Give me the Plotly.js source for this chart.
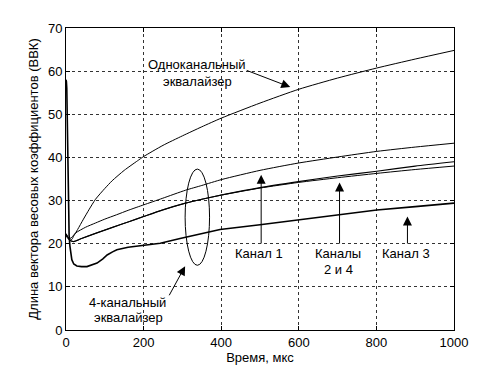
<!DOCTYPE html>
<html>
<head>
<meta charset="utf-8">
<script src="https://cdn.plot.ly/plotly-3.0.1.min.js"></script>
<style>html,body{margin:0;padding:0;background:#fff;}#chart{width:502px;height:371px;}</style>
</head>
<body>
<div id="chart"></div>
<script>
// Single-channel equalizer
const tSingle = [0, 5, 10, 15, 20, 30, 45, 60, 76, 100, 119, 150, 184, 200, 250, 300, 350, 400, 500, 600, 700, 800, 900, 1000];
const vSingle = [21.8, 21.2, 20.8, 21.0, 21.8, 23.3, 25.7, 28.0, 30.3, 32.8, 34.6, 37.0, 39.2, 40.2, 42.8, 45.0, 47.1, 49.1, 52.6, 55.8, 58.4, 60.7, 62.8, 64.8];
// 4-channel equalizer, channel 1
const tCh1 = [0, 5, 10, 15, 25, 50, 76, 100, 130, 162, 200, 248, 308, 350, 402, 500, 599, 700, 801, 900, 1000];
const vCh1 = [22, 21.6, 21.2, 21.5, 22.5, 23.8, 24.8, 25.7, 26.7, 27.8, 29.0, 30.5, 32.4, 33.5, 34.9, 37.0, 38.7, 40.1, 41.4, 42.4, 43.3];
// channels 2 and 4
const tCh24 = [0, 5, 10, 20, 40, 76, 120, 162, 200, 248, 308, 350, 402, 500, 599, 700, 801, 900, 1000];
const vCh2 = [22.3, 21.5, 20.8, 20.5, 21.2, 22.4, 23.8, 25.1, 26.3, 27.8, 29.4, 30.3, 31.3, 33.0, 34.4, 35.7, 36.8, 38.0, 39.0];
const vCh4 = [22.3, 21.5, 20.8, 20.5, 21.2, 22.4, 23.8, 25.1, 26.3, 27.8, 29.4, 30.3, 31.3, 32.9, 34.2, 35.3, 36.3, 37.2, 38.0];
// channel 3 (with initial spike)
const tCh3 = [0, 1, 2, 3, 4, 5, 6, 7, 8, 10, 15, 20, 28, 40, 54, 65, 80, 95, 106, 120, 131, 160, 191, 243, 294, 346, 397, 500, 599, 700, 801, 900, 1000];
const vCh3 = [58, 57.6, 56, 52, 48, 44, 38, 28, 22, 19.5, 16.3, 15.3, 14.85, 14.7, 14.7, 15, 15.5, 16.5, 17.4, 18.1, 18.6, 19.2, 19.6, 20.1, 21.2, 22.3, 23.3, 24.4, 25.5, 26.6, 27.8, 28.6, 29.4];

const xTicks = [0, 200, 400, 600, 800, 1000];
const yTicks = [0, 10, 20, 30, 40, 50, 60, 70];

const FONT = 'Liberation Sans, Arial, sans-serif';
const ln = (w) => ({color: '#000', width: w});

const traces = [
  {x: tSingle, y: vSingle, mode: 'lines', line: Object.assign(ln(1), {shape: 'spline', smoothing: 0.6}), name: 'Одноканальный'},
  {x: tCh1, y: vCh1, mode: 'lines', line: Object.assign(ln(1), {shape: 'spline', smoothing: 0.6}), name: 'Канал 1'},
  {x: tCh24, y: vCh2, mode: 'lines', line: Object.assign(ln(1.2), {shape: 'spline', smoothing: 0.6}), name: 'Канал 2'},
  {x: tCh24, y: vCh4, mode: 'lines', line: Object.assign(ln(1), {shape: 'spline', smoothing: 0.6}), name: 'Канал 4'},
  {x: tCh3, y: vCh3, mode: 'lines', line: ln(1.6), name: 'Канал 3'}
];

function arrow(xh, yh, xt, yt) {
  return {x: xh, y: yh, ax: xt, ay: yt, xref: 'x', yref: 'y', axref: 'x', ayref: 'y',
    text: '', showarrow: true, arrowhead: 2, arrowsize: 1.8, arrowwidth: 1, arrowcolor: '#000', standoff: 0, startstandoff: 0};
}
function label(x, y, txt) {
  return {x: x, y: y, xref: 'x', yref: 'y', text: txt, showarrow: false,
    font: {family: FONT, size: 13, color: '#000'}, xanchor: 'center', yanchor: 'middle'};
}

const gridStyle = {showgrid: true, gridcolor: '#333', gridwidth: 1, griddash: 'dot'};

const layout = {
  width: 502, height: 371,
  margin: {l: 66, r: 48, t: 28, b: 41},
  paper_bgcolor: '#fff', plot_bgcolor: '#fff',
  showlegend: false,
  font: {family: FONT, size: 13, color: '#000'},
  xaxis: Object.assign({
    range: [0, 1000], tickvals: xTicks, ticktext: xTicks.map(String),
    ticks: 'inside', ticklen: 4, tickcolor: '#000',
    showline: true, linecolor: '#000', linewidth: 1, mirror: 'ticks',
    zeroline: false, tickfont: {family: FONT, size: 13},
    title: {text: 'Время, мкс', font: {family: FONT, size: 13}, standoff: 4}
  }, gridStyle),
  yaxis: Object.assign({
    range: [0, 70], tickvals: yTicks, ticktext: yTicks.map(String),
    ticks: 'inside', ticklen: 4, tickcolor: '#000',
    showline: true, linecolor: '#000', linewidth: 1, mirror: 'ticks',
    zeroline: false, tickfont: {family: FONT, size: 13},
    title: {text: 'Длина вектора весовых коэффициентов (ВВК)', font: {family: FONT, size: 13}, standoff: 6}
  }, gridStyle),
  shapes: [
    {type: 'circle', xref: 'x', yref: 'y', x0: 307, x1: 370, y0: 15, y1: 37.3, line: {color: '#000', width: 1}}
  ],
  annotations: [
    label(338, 61.6, 'Одноканальный'),
    label(338, 57.7, 'эквалайзер'),
    arrow(578, 56.3, 462, 60.3),
    label(159, 6.4, '4-канальный'),
    label(162, 2.8, 'эквалайзер'),
    arrow(307, 14.8, 264, 7.7),
    label(498, 17.8, 'Канал 1'),
    arrow(503, 36.0, 503, 19.7),
    label(702, 17.8, 'Каналы'),
    label(702, 14.1, '2 и 4'),
    arrow(705, 34.2, 705, 19.7),
    label(877, 17.8, 'Канал 3'),
    arrow(880, 26.3, 880, 19.7)
  ]
};

Plotly.newPlot('chart', traces, layout, {displayModeBar: false, staticPlot: true});
</script>
</body>
</html>
